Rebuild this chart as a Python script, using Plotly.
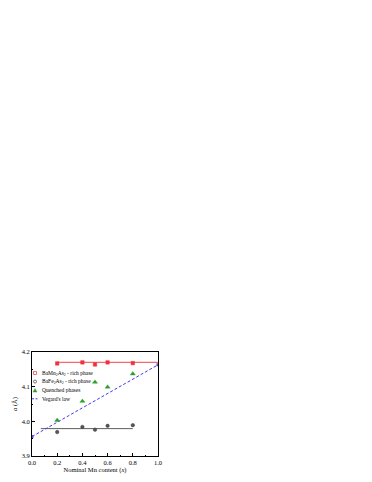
import plotly.graph_objects as go

x_vals = [0.2, 0.4, 0.5, 0.6, 0.8]
mn_rich = [4.167, 4.170, 4.164, 4.170, 4.168]
fe_rich = [3.969, 3.984, 3.976, 3.987, 3.989]
quenched = [4.003, 4.058, 4.113, 4.099, 4.137]

mn_fit_x = [0.2, 1.0]
mn_fit_y = [4.170, 4.170]
fe_fit_x = [0.07, 0.8]
fe_fit_y = [3.979, 3.979]

vegard_x = [0.0, 1.0]
vegard_y = [3.956, 4.163]

x_ticks = [0.0, 0.2, 0.4, 0.6, 0.8, 1.0]
y_ticks = [3.9, 4.0, 4.1, 4.2]

legend_labels = ["BaMn<sub>2</sub>As<sub>2</sub> - rich phase",
                 "BaFe<sub>2</sub>As<sub>2</sub> - rich phase",
                 "Quenched phases",
                 "Vegard's law"]

FONT = "Liberation Serif"
red = "#f0323c"
dark = "#3a3a3a"
green = "#2ca02c"
blue = "#3c3cf0"

fig = go.Figure()
fig.add_trace(go.Scatter(x=mn_fit_x, y=mn_fit_y, mode="lines",
                         line=dict(color="#f36b70", width=1.3), showlegend=False, hoverinfo="skip"))
fig.add_trace(go.Scatter(x=fe_fit_x, y=fe_fit_y, mode="lines",
                         line=dict(color="#333333", width=0.8), showlegend=False, hoverinfo="skip"))
fig.add_trace(go.Scatter(x=vegard_x, y=vegard_y, mode="lines",
                         line=dict(color=blue, width=1, dash="3px,2px"), showlegend=False))

fig.add_trace(go.Scatter(x=x_vals, y=mn_rich, mode="markers", name=legend_labels[0],
                         marker=dict(symbol="square", size=3.5, color=red,
                                     line=dict(color=red, width=0.5))))
fig.add_trace(go.Scatter(x=x_vals, y=fe_rich, mode="markers", name=legend_labels[1],
                         marker=dict(symbol="circle", size=3.5, color="#555555",
                                     line=dict(color=dark, width=0.5))))
fig.add_trace(go.Scatter(x=x_vals, y=quenched, mode="markers", name=legend_labels[2],
                         marker=dict(symbol="triangle-up", size=4.5, color=green,
                                     line=dict(color=green, width=0.4))))
fig.add_trace(go.Scatter(x=vegard_x, y=vegard_y, mode="markers", showlegend=False,
                         marker=dict(symbol="square", size=3, color="#6a4bd0")))

axis_common = dict(showline=True, linecolor="black", linewidth=0.8, mirror=True,
                   ticks="inside", ticklen=3, tickwidth=0.6, tickcolor="black",
                   showgrid=False, zeroline=False, automargin=False,
                   tickfont=dict(family=FONT, size=6.5, color="black"),
                   minor=dict(ticks="inside", ticklen=1.5, tickwidth=0.5, tickcolor="black"))

fig.update_xaxes(range=[0, 1.0], tickvals=x_ticks, ticktext=[f"{v:.1f}" for v in x_ticks],
                 title=dict(text="Nominal Mn content (<i>x</i>)", standoff=2,
                            font=dict(family=FONT, size=6.5, color="black")),
                 minor_tickvals=[0.1, 0.3, 0.5, 0.7, 0.9],
                 **axis_common)
fig.update_yaxes(range=[3.9, 4.2], tickvals=y_ticks, ticktext=[f"{v:.1f}" for v in y_ticks],
                 title=dict(text="<i>a</i> (Å)", standoff=3,
                            font=dict(family=FONT, size=6.5, color="black")),
                 minor_tickvals=[3.95, 4.05, 4.15],
                 **axis_common)

# manual legend (compact rows)
row_y = [0.798, 0.716, 0.63, 0.55]
mx = 0.024
tx = 0.067
shapes = []
shapes.append(dict(type="rect", xref="paper", yref="paper", xsizemode="pixel", ysizemode="pixel",
                   xanchor=mx, yanchor=row_y[0], x0=-1.5, x1=1.5, y0=-1.5, y1=1.5,
                   line=dict(color=red, width=0.7), fillcolor="rgba(0,0,0,0)"))
shapes.append(dict(type="circle", xref="paper", yref="paper", xsizemode="pixel", ysizemode="pixel",
                   xanchor=mx, yanchor=row_y[1], x0=-1.5, x1=1.5, y0=-1.5, y1=1.5,
                   line=dict(color=dark, width=0.7), fillcolor="rgba(0,0,0,0)"))
shapes.append(dict(type="path", xref="paper", yref="paper", xsizemode="pixel", ysizemode="pixel",
                   xanchor=mx, yanchor=row_y[2], path="M -2,-1.6 L 2,-1.6 L 0,2 Z",
                   line=dict(color=green, width=0.4), fillcolor=green))
shapes.append(dict(type="line", xref="paper", yref="paper", xsizemode="pixel", ysizemode="pixel",
                   xanchor=mx, yanchor=row_y[3], x0=-3, x1=3.5, y0=0, y1=0,
                   line=dict(color=blue, width=1, dash="2px,1.5px")))

annotations = [dict(text=lab, x=tx, y=yy, xref="paper", yref="paper", xanchor="left",
                    yanchor="middle", showarrow=False,
                    font=dict(family=FONT, size=5.5, color="black"))
               for lab, yy in zip(legend_labels, row_y)]

fig.update_layout(
    width=372, height=482,
    margin=dict(l=24, r=222, t=344, b=34),
    plot_bgcolor="white", paper_bgcolor="white",
    font=dict(family=FONT, size=6, color="black"),
    showlegend=False,
    shapes=shapes,
    annotations=annotations,
)

fig.write_html("out.html")
